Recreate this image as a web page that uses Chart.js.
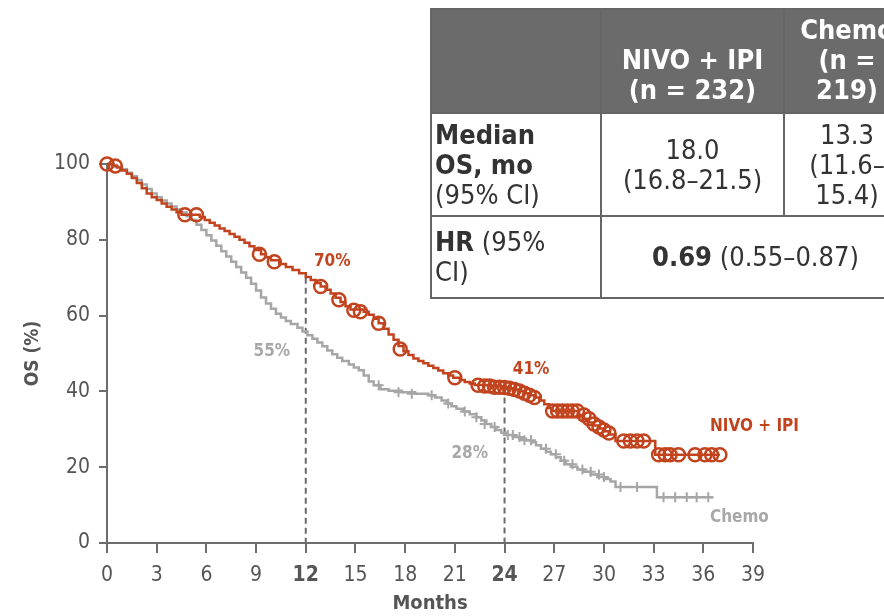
<!DOCTYPE html>
<html>
<head>
<meta charset="utf-8">
<script src="https://cdn.jsdelivr.net/npm/chart.js@4/dist/chart.umd.min.js"></script>
<style>
  html, body { margin: 0; padding: 0; background: #fff; }
  body { width: 884px; height: 616px; overflow: hidden; position: relative;
         font-family: "DejaVu Sans Condensed", "DejaVu Sans", sans-serif; }
  #wrap { position: absolute; left: 0; top: 0; width: 884px; height: 616px; }
  table.os { position: absolute; left: 430px; top: 8px; width: 479px; border-collapse: collapse;
             table-layout: fixed; font-size: 27px; line-height: 30px; color: #333; }
  table.os td, table.os th { border: 2px solid #666; padding: 0; }
  table.os th { background: #6b6b6b; color: #fff; font-weight: bold; vertical-align: bottom;
                text-align: center; padding-bottom: 7px; }
  table.os td { text-align: center; vertical-align: middle; }
  table.os td.lab { text-align: left; padding-left: 3px; }
  b { font-weight: bold; }
</style>
</head>
<body>
<div id="wrap"><canvas id="osChart" width="884" height="616"></canvas></div>

<table class="os">
  <colgroup><col style="width:170px"><col style="width:183px"><col style="width:126px"></colgroup>
  <tr style="height:104px"><th></th><th>NIVO + IPI<br>(n = 232)</th><th>Chemo<br>(n =<br>219)</th></tr>
  <tr style="height:103px">
    <td class="lab"><b>Median<br>OS, mo</b><br>(95% CI)</td>
    <td>18.0<br>(16.8–21.5)</td>
    <td>13.3<br>(11.6–<br>15.4)</td>
  </tr>
  <tr style="height:82px">
    <td class="lab"><b>HR</b> (95%<br>CI)</td>
    <td colspan="2"><b>0.69</b> (0.55–0.87)</td>
  </tr>
</table>

<script>
// Kaplan-Meier OS curves (months, OS %)
const nivoMonths = [0, 0.3, 0.6, 0.9, 1.2, 1.5, 1.8, 2.1, 2.4, 2.7, 3.0, 3.3, 3.6, 3.9, 4.2, 4.5,
  5.6, 5.9, 6.2, 6.5, 6.8, 7.1, 7.4, 7.7, 8.0, 8.3, 8.6, 8.9, 9.3, 9.6, 9.9, 10.4, 10.8, 11.2, 11.6,
  12.0, 12.3, 12.6, 12.9, 13.2, 13.5, 13.8, 14.1, 14.4, 14.7, 15.5, 15.8, 16.1, 16.4, 16.7, 17.0,
  17.3, 17.6, 17.9, 18.2, 18.5, 18.8, 19.1, 19.4, 19.7, 20.0, 20.3, 20.6, 20.9, 21.3, 21.6, 21.9,
  22.2, 23.0, 23.8, 24.2, 24.6, 24.9, 25.2, 25.5, 25.8, 26.1, 26.4, 26.7, 26.9, 28.5, 28.8, 29.1,
  29.4, 29.7, 30.0, 30.3, 30.7, 33.1, 37.0];
const nivoOS = [100, 99.6, 99.1, 98.3, 97.4, 96.3, 95, 93.6, 92.2, 91.2, 90.5, 89.6, 88.7, 88, 87.3, 86.6,
  86, 85.2, 84.5, 83.8, 83, 82.3, 81.5, 80.8, 80, 79.2, 78.3, 77.3, 76.2, 75.4, 74.6, 73.6, 72.8, 72, 71.2,
  70.2, 69.4, 68.6, 67.7, 66.8, 65.8, 64.7, 63.6, 62.5, 61.6, 61, 60.2, 59.2, 58, 56.5, 55,
  53.6, 52, 50.6, 49.6, 48.7, 48, 47.4, 46.8, 46.2, 45.5, 44.8, 44.2, 43.6, 43, 42.5, 42.1,
  41.7, 41.4, 41.1, 40.8, 40.5, 40.1, 39.5, 39, 38.4, 37.6, 36.6, 35.6, 34.8, 33.8, 32.8, 31.8,
  31, 30.2, 29.5, 28.6, 26.9, 23.3, 23.3];

const chemoMonths = [0, 0.4, 0.8, 1.2, 1.5, 1.8, 2.1, 2.4, 2.7, 3.0, 3.3, 3.6, 3.9, 4.2, 4.5, 4.8,
  5.1, 5.4, 5.7, 6.0, 6.3, 6.6, 6.9, 7.2, 7.5, 7.8, 8.1, 8.4, 8.7, 9.0, 9.3, 9.6, 9.9, 10.2, 10.5,
  10.8, 11.1, 11.5, 11.8, 12.1, 12.4, 12.7, 13.0, 13.3, 13.6, 13.9, 14.2, 14.6, 14.9, 15.2, 15.5,
  15.8, 16.1, 16.5, 17.0, 17.8, 18.6, 19.4, 19.8, 20.2, 20.5, 20.8, 21.1, 21.5, 21.9, 22.3, 22.6,
  22.9, 23.2, 23.5, 23.8, 24.1, 24.5, 24.9, 25.3, 25.6, 25.9, 26.2, 26.5, 26.8, 27.1, 27.4, 27.7,
  28.0, 28.4, 28.8, 29.2, 29.6, 30.0, 30.4, 30.7, 33.2, 36.6];
const chemoOS = [100, 99.3, 98.6, 97.7, 96.8, 95.8, 94.6, 93.4, 92.2, 91.2, 90.4, 89.6, 88.8, 88, 87.2, 86.2,
  85.2, 84, 82.6, 81.2, 79.8, 78.4, 77, 75.6, 74.2, 72.8, 71.4, 70, 68.4, 66.6, 64.8, 63.2, 61.8, 60.5, 59.5,
  58.6, 57.8, 56.8, 55.8, 54.8, 53.9, 52.9, 51.9, 50.8, 49.8, 48.9, 48, 47.1, 46.3, 45.6, 44.2,
  42.6, 41.6, 40.6, 40.2, 39.8, 39.4, 39, 38.4, 37.6, 36.8, 36.1, 35.4, 34.7, 34, 33.2, 32.3,
  31.4, 30.6, 29.8, 29.1, 28.5, 28, 27.5, 27.1, 26.6, 25.8, 24.9, 24.1, 23.4, 22.6, 21.7, 20.8,
  20.1, 19.4, 18.8, 18.1, 17.4, 16.9, 16.2, 14.8, 12.1, 12.1];

// censored patients
const nivoCensorMonths = [0, 0.5, 4.7, 5.4, 9.2, 10.1, 12.9, 14.0, 14.9, 15.3, 16.4, 17.7, 21.0,
  22.4, 22.8, 23.1, 23.4, 23.7, 24.0, 24.3, 24.6, 24.9, 25.2, 25.5, 25.8,
  26.9, 27.2, 27.5, 27.8, 28.1, 28.4, 28.8, 29.1, 29.4, 29.7, 30.0, 30.3,
  31.2, 31.6, 32.0, 32.4, 33.3, 33.7, 34.0, 34.5, 35.5, 36.1, 36.5, 37.0];
const nivoCensorOS = [100, 99.5, 86.6, 86.6, 76.2, 74.2, 67.7, 64.2, 61.4, 61, 58, 51.2, 43.6,
  41.6, 41.4, 41.4, 41.1, 41.1, 41, 40.8, 40.5, 40.1, 39.5, 39, 38.4,
  34.8, 34.8, 34.8, 34.8, 34.8, 34.8, 33.8, 32.8, 31.4, 30.6, 29.8, 29,
  26.9, 26.9, 26.9, 26.9, 23.3, 23.3, 23.3, 23.3, 23.3, 23.3, 23.3, 23.3];

const chemoCensorMonths = [16.4, 17.6, 18.4, 19.6, 20.6, 21.6, 22.3, 22.8, 23.4, 24.2, 24.5, 24.9,
  25.2, 25.6, 26.5, 27.1, 27.6, 28.1, 28.7, 29.2, 29.7, 30.0, 31.0, 32.0, 33.6, 34.3, 35.0, 35.6, 36.3];
const chemoCensorOS = [41.6, 39.8, 39.4, 39, 36.8, 34.7, 33.2, 31.4, 30.6, 28.5, 28.5, 28,
  27.1, 27.1, 24.9, 23.4, 21.7, 20.8, 19.4, 18.8, 18.1, 17.4, 14.8, 14.8, 12.1, 12.1, 12.1, 12.1, 12.1];

// landmark rates
const landmarkMonths = [12, 24];
const landmarkNivo = [70, 41];
const landmarkChemo = [55, 28];

const xTicks = [0, 3, 6, 9, 12, 15, 18, 21, 24, 27, 30, 33, 36, 39];
const yTicks = [0, 20, 40, 60, 80, 100];

const RED = '#c1441f';
const GREY = '#a6a6a6';
const AXIS = '#6d6d6d';
const FONT = '"DejaVu Sans Condensed", "DejaVu Sans", sans-serif';

const pts = (xs, ys) => xs.map((x, i) => ({ x: x, y: ys[i] }));

const annotations = {
  id: 'annotations',
  beforeDatasetsDraw(chart) {
    const { ctx, scales: { x, y } } = chart;
    ctx.save();
    ctx.strokeStyle = '#6a6a6a';
    ctx.lineWidth = 2;
    ctx.setLineDash([6, 4]);
    landmarkMonths.forEach((m, i) => {
      ctx.beginPath();
      ctx.moveTo(x.getPixelForValue(m), y.getPixelForValue(landmarkNivo[i]));
      ctx.lineTo(x.getPixelForValue(m), y.getPixelForValue(0));
      ctx.stroke();
    });
    ctx.restore();
  },
  afterDatasetsDraw(chart) {
    const { ctx, scales: { x, y } } = chart;
    const labels = [
      { t: landmarkNivo[0] + '%', m: 13.6, v: 74.2, c: RED, a: 'center' },
      { t: landmarkChemo[0] + '%', m: 9.95, v: 50.6, c: '#a8a8a8', a: 'center' },
      { t: landmarkNivo[1] + '%', m: 25.6, v: 45.8, c: RED, a: 'center' },
      { t: landmarkChemo[1] + '%', m: 21.9, v: 23.6, c: '#a8a8a8', a: 'center' },
      { t: 'NIVO + IPI', m: 36.4, v: 30.8, c: RED, a: 'left' },
      { t: 'Chemo', m: 36.4, v: 6.8, c: '#a8a8a8', a: 'left' }
    ];
    ctx.save();
    ctx.font = 'bold 17px ' + FONT;
    ctx.textBaseline = 'middle';
    labels.forEach(l => {
      ctx.fillStyle = l.c;
      ctx.textAlign = l.a;
      ctx.fillText(l.t, x.getPixelForValue(l.m), y.getPixelForValue(l.v));
    });
    ctx.restore();
  }
};

new Chart(document.getElementById('osChart'), {
  type: 'line',
  data: {
    datasets: [
      {
        label: 'NIVO + IPI censored',
        data: pts(nivoCensorMonths, nivoCensorOS),
        showLine: false,
        pointStyle: 'circle',
        pointRadius: 6.5,
        pointBorderWidth: 2.5,
        pointBorderColor: RED,
        pointBackgroundColor: 'rgba(0,0,0,0)',
        clip: false
      },
      {
        label: 'NIVO + IPI',
        data: pts(nivoMonths, nivoOS),
        borderColor: RED,
        borderWidth: 2.5,
        stepped: true,
        pointRadius: 0,
        clip: false
      },
      {
        label: 'Chemo censored',
        data: pts(chemoCensorMonths, chemoCensorOS),
        showLine: false,
        pointStyle: 'cross',
        pointRadius: 5,
        pointBorderWidth: 2,
        pointBorderColor: GREY,
        clip: false
      },
      {
        label: 'Chemo',
        data: pts(chemoMonths, chemoOS),
        borderColor: GREY,
        borderWidth: 2.5,
        stepped: true,
        pointRadius: 0,
        clip: false
      }
    ]
  },
  options: {
    responsive: false,
    animation: false,
    layout: { padding: { top: 164, right: 131, bottom: 0, left: 0 } },
    plugins: { legend: { display: false }, tooltip: { enabled: false } },
    scales: {
      x: {
        type: 'linear',
        min: 0,
        max: 39,
        afterFit: s => { s.height = 73; },
        afterBuildTicks: s => { s.ticks = xTicks.map(v => ({ value: v })); },
        grid: { drawOnChartArea: false, drawTicks: true, tickLength: 10, color: AXIS, lineWidth: 2 },
        border: { display: true, color: AXIS, width: 2 },
        ticks: {
          color: '#555',
          padding: 10,
          font: c => ({ family: FONT, size: 21, weight: (c.tick && (c.tick.value === 12 || c.tick.value === 24)) ? 'bold' : 'normal' })
        },
        title: {
          display: true, text: 'Months', color: '#555',
          font: { family: FONT, size: 20, weight: 'bold' },
          padding: { top: 0, bottom: 0 }
        }
      },
      y: {
        min: 0,
        max: 100,
        afterFit: s => { s.width = 107; },
        afterBuildTicks: s => { s.ticks = yTicks.map(v => ({ value: v })); },
        grid: { drawOnChartArea: false, drawTicks: true, tickLength: 8, color: AXIS, lineWidth: 2 },
        border: { display: true, color: AXIS, width: 2 },
        ticks: { color: '#555', padding: 9, font: { family: FONT, size: 21 } },
        title: {
          display: true, text: 'OS (%)', color: '#555',
          font: { family: FONT, size: 19, weight: 'bold' },
          padding: { top: 22, bottom: 0 }
        }
      }
    }
  },
  plugins: [annotations]
});
</script>
</body>
</html>
